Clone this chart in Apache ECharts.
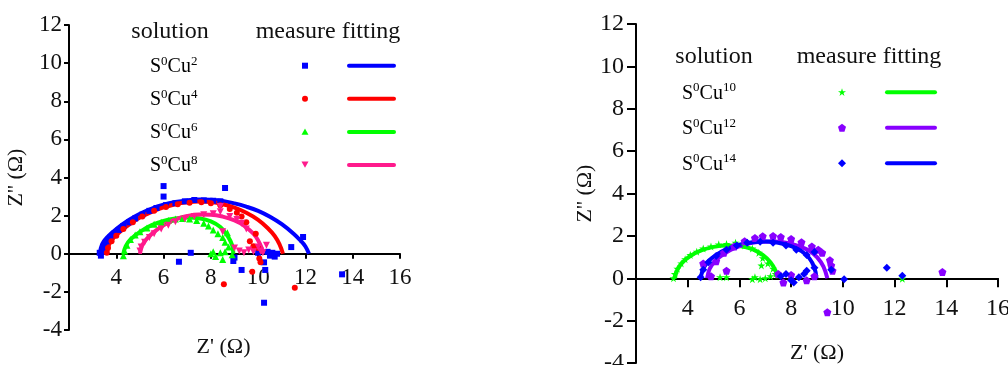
<!DOCTYPE html>
<html>
<head>
<meta charset="utf-8">
<script src="https://cdn.jsdelivr.net/npm/echarts@6/dist/echarts.min.js"></script>
<style>
  html, body { margin: 0; background: #fff; }
  #main { width: 1008px; height: 365px; }
</style>
</head>
<body>
<div id="main"></div>
<script>
// ---------- data ----------
const yTicksMin = -4, yTicksMax = 12;
const xMin = 2, xMax = 16;

const leftNames = ['S0Cu2', 'S0Cu4', 'S0Cu6', 'S0Cu8'];
const rightNames = ['S0Cu10', 'S0Cu12', 'S0Cu14'];

// left panel - measured
const cu2Measure = [[3.3,0.05],[3.35,-0.1],[3.4,0.2],[3.45,0.1],[3.5,0.4],[3.6,0.65],[3.75,0.85],[3.9,1.05],[4.1,1.25],[4.3,1.45],[4.55,1.65],[4.8,1.85],[5.1,2.05],[5.4,2.25],[5.7,2.4],[6.1,2.55],[6.5,2.65],[6.9,2.75],[7.3,2.82],[7.7,2.8],[8.1,2.78],[8.4,2.75],
  [6.0,3.55],[6.0,3.0],[8.6,3.45],[6.65,-0.42],[7.15,0.05],[8.95,-0.38],[9.0,-0.2],[9.3,-0.85],[10.3,-0.85],[10.25,-2.57],[10.25,-0.45],[10.0,0.05],[10.5,-0.1],[10.6,0.05],[10.7,-0.15],[10.8,0],[10.4,0.1],[11.4,0.35],[11.9,0.88],[13.55,-1.08]];
const cu4Measure = [[3.6,0.05],[3.65,0.3],[3.8,0.65],[4.0,0.95],[4.3,1.3],[4.7,1.65],[5.1,1.95],[5.6,2.25],[6.1,2.45],[6.6,2.6],[7.1,2.68],[7.6,2.7],[8.0,2.65],[8.4,2.55],[8.8,2.35],[9.1,2.15],[9.3,1.95],[9.5,1.65],[9.65,0.65],[9.9,1.05],[10.0,0.3],[10.05,-0.25],[10.1,-0.45],[9.8,0.4],
  [8.55,-1.6],[9.75,-0.95],[11.55,-1.78]];
const cu6Measure = [[4.3,-0.1],[4.35,0.15],[4.45,0.45],[4.6,0.75],[4.8,0.98],[5.0,1.15],[5.3,1.35],[5.6,1.55],[5.9,1.65],[6.2,1.75],[6.5,1.82],[6.8,1.85],[7.1,1.82],[7.4,1.75],[7.7,1.6],[7.9,1.45],[8.1,1.25],[8.3,1.05],[8.5,0.85],[8.6,0.6],[8.7,1.1],[8.75,0.35],[8.6,0.1],[8.4,0.05],[8.2,-0.15],[8.1,0.1],[8.5,-0.3],[8.9,-0.05],[8.0,0.0]];
const cu8Measure = [[5.0,0.15],[5.05,0.35],[5.2,0.6],[5.4,0.85],[5.6,1.05],[5.9,1.3],[6.2,1.5],[6.5,1.68],[6.9,1.82],[7.3,1.95],[7.7,2.05],[8.1,2.1],[8.4,2.2],[8.4,2.48],[8.8,1.95],[9.1,1.8],[9.3,1.6],[9.5,1.3],[8.5,1.15],[9.0,0.3],[9.2,0.15],[9.4,0.05],[9.6,0.2],[9.8,0.1],[10.0,0.35],[10.1,0.15],[10.35,0.45],[10.2,0.05]];

// left panel - fitting
const cu2Fit = [[3.3,0],[3.4,0.5],[3.6,0.85],[4.0,1.3],[4.5,1.75],[5.0,2.1],[5.5,2.37],[6.0,2.57],[6.5,2.71],[7.0,2.8],[7.5,2.84],[8.0,2.83],[8.5,2.77],[9.0,2.64],[9.5,2.47],[10.0,2.25],[10.5,1.94],[11.0,1.55],[11.5,1.05],[11.8,0.68],[12.0,0.38],[12.15,0]];
const cu4Fit = [[3.6,0],[3.7,0.5],[3.9,0.85],[4.2,1.2],[4.6,1.58],[5.0,1.9],[5.5,2.2],[6.0,2.43],[6.5,2.6],[7.0,2.7],[7.5,2.74],[8.0,2.71],[8.5,2.6],[9.0,2.42],[9.5,2.15],[10.0,1.78],[10.4,1.35],[10.7,0.93],[10.9,0.5],[11.05,0]];
const cu6Fit = [[4.3,0],[4.4,0.4],[4.6,0.75],[5.0,1.15],[5.5,1.5],[6.0,1.72],[6.5,1.85],[7.0,1.9],[7.5,1.86],[8.0,1.7],[8.4,1.4],[8.7,0.95],[8.9,0.45],[8.95,0]];
const cu8Fit = [[5.0,0],[5.1,0.45],[5.3,0.8],[5.6,1.15],[6.0,1.5],[6.5,1.8],[7.0,1.98],[7.5,2.06],[8.0,2.05],[8.5,1.95],[9.0,1.75],[9.4,1.48],[9.8,1.05],[10.0,0.7],[10.15,0.3],[10.2,0]];

// right panel - measured
const cu10Measure = [[3.45,0.0],[3.5,0.2],[3.6,0.45],[3.75,0.7],[3.9,0.9],[4.1,1.1],[4.35,1.25],[4.6,1.4],[4.9,1.5],[5.2,1.6],[5.5,1.62],[5.85,1.68],[6.2,1.55],[6.5,1.4],[6.75,1.2],[6.9,0.95],[6.85,0.6],[7.1,0.7],[7.3,0.45],[7.4,0.2],[7.2,0.1],[7.0,0.0],[6.8,-0.05],[6.6,0.05],[6.5,-0.05],[5.25,0.05],[5.5,0.05],[12.3,-0.02]];
const cu12Measure = [[4.6,0.7],[5.5,0.35],[4.9,0.1],[5.1,0.8],[5.4,1.2],[5.8,1.5],[6.2,1.75],[6.6,1.9],[6.9,1.98],[7.3,2.0],[7.6,1.95],[8.0,1.85],[8.4,1.7],[8.8,1.5],[9.05,1.35],[9.2,1.2],[9.5,0.85],[9.55,0.6],[9.6,0.35],[8.9,0.1],[8.6,-0.1],[8.0,0.15],[7.7,-0.2],[7.5,0.2],[9.4,-1.6],[13.85,0.3]];
const cu14Measure = [[4.5,0.05],[4.6,0.4],[4.8,0.75],[5.1,1.05],[5.5,1.35],[5.9,1.55],[6.3,1.68],[6.8,1.72],[7.3,1.68],[7.8,1.55],[8.2,1.35],[8.6,1.1],[8.9,1.24],[8.9,0.5],[8.6,0.35],[8.5,0.2],[8.3,0.05],[8.0,-0.1],[7.8,0.2],[8.1,-0.2],[7.6,0.1],[9.55,0.4],[10.05,-0.05],[11.7,0.5],[12.3,0.12]];

// right panel - fitting
const cu10Fit = [[3.5,0],[3.6,0.4],[3.8,0.75],[4.1,1.05],[4.5,1.3],[5.0,1.48],[5.5,1.55],[6.0,1.52],[6.5,1.38],[6.9,1.1],[7.2,0.75],[7.4,0.35],[7.48,0]];
const cu12Fit = [[4.75,0],[4.85,0.45],[5.05,0.8],[5.4,1.15],[5.8,1.42],[6.3,1.62],[6.8,1.72],[7.3,1.74],[7.8,1.68],[8.3,1.52],[8.7,1.3],[9.0,1.0],[9.25,0.55],[9.4,0]];
const cu14Fit = [[4.5,0],[4.6,0.45],[4.8,0.8],[5.1,1.1],[5.5,1.38],[6.0,1.58],[6.5,1.7],[7.0,1.73],[7.5,1.68],[8.0,1.52],[8.4,1.28],[8.7,0.95],[8.9,0.5],[8.98,0]];

// ---------- styles ----------
const FONT = 'Liberation Serif';
// marker outlines in a 10x10 box
const SHAPES = {
  square: [[0,0],[10,0],[10,10],[0,10]],
  triUp: [[5,0],[10,9],[0,9]],
  triDown: [[0,0],[10,0],[5,9]],
  star: [[5,0],[6.2,3.6],[10,3.6],[6.9,5.8],[8.1,9.5],[5,7.2],[1.9,9.5],[3.1,5.8],[0,3.6],[3.8,3.6]],
  pentagon: [[5,0],[10,3.8],[8.1,10],[1.9,10],[0,3.8]],
  diamond: [[5,0],[10,5],[5,10],[0,5]]
};
function symbolOf(key) {
  if (key === 'circle') return 'circle';
  return 'path://M' + SHAPES[key].map(function (p) { return p.join(','); }).join('L') + 'Z';
}

const panels = [
  {
    names: leftNames,
    measure: [cu2Measure, cu4Measure, cu6Measure, cu8Measure],
    fit: [cu2Fit, cu4Fit, cu6Fit, cu8Fit],
    colors: ['#0000ff', '#ff0000', '#00ff00', '#ff1a8c'],
    shapes: ['square', 'circle', 'triUp', 'triDown'],
    sizes: [6, 6, 7, 7],
    grid: { left: 69, top: 25, width: 331, height: 305 },
    fontSize: 23,
    xName: { gap: 82, padding: [0, 22, 0, 0] },
    yName: { gap: 42 },
    labelMargin: { x: 13, y: 7 },
    tickLen: 5,
    legend: { solX: 170, headY: 32, measX: 328, rowY: 65.7, step: 33.1, labelX: 150, markX: 305, lineX: 347, lineW: 49 }
  },
  {
    names: rightNames,
    measure: [cu10Measure, cu12Measure, cu14Measure],
    fit: [cu10Fit, cu12Fit, cu14Fit],
    colors: ['#00ff00', '#8800ff', '#0000ff'],
    shapes: ['star', 'pentagon', 'diamond'],
    sizes: [8, 8, 8],
    grid: { left: 636, top: 24, width: 362, height: 339 },
    fontSize: 24,
    xName: { gap: 64, padding: [0, 0, 0, 0] },
    yName: { gap: 40 },
    labelMargin: { x: 18, y: 12 },
    tickLen: 9,
    legend: { solX: 714, headY: 57, measX: 869, rowY: 92.3, step: 35.5, labelX: 682, markX: 842, lineX: 885, lineW: 52 }
  }
];

const richLabel = {
  a: { fontFamily: FONT, fontSize: 20, color: '#111', lineHeight: 24 },
  s: { fontFamily: FONT, fontSize: 13, color: '#111', verticalAlign: 'top', lineHeight: 13 }
};
function labelText(name) {
  const m = name.match(/^S(\d)Cu(\d+)$/);
  return '{a|S}{s|' + m[1] + '}{a|Cu}{s|' + m[2] + '}';
}

function markerEl(key, cx, cy, size, color) {
  if (key === 'circle') {
    return { type: 'circle', shape: { cx: cx, cy: cy, r: size / 2 }, style: { fill: color } };
  }
  const k = size / 10;
  return {
    type: 'polygon',
    shape: { points: SHAPES[key].map(function (p) { return [cx - size / 2 + p[0] * k, cy - size / 2 + p[1] * k]; }) },
    style: { fill: color }
  };
}

const grids = [], xAxes = [], yAxes = [], series = [], graphics = [];

panels.forEach(function (p, gi) {
  grids.push(Object.assign({ containLabel: false, outerBoundsMode: 'none' }, p.grid));
  const axisLine = { lineStyle: { color: '#000', width: 2 } };
  // the Z' axis sits on Z'' = 0: shift the bottom axis up to that level
  const zeroOffset = -p.grid.height * (0 - yTicksMin) / (yTicksMax - yTicksMin);
  xAxes.push({
    gridIndex: gi, type: 'value', min: xMin, max: xMax, interval: 2,
    position: 'bottom', offset: zeroOffset,
    axisLine: Object.assign({ onZero: false }, axisLine),
    axisTick: { length: p.tickLen, lineStyle: { color: '#000', width: 2 } },
    axisLabel: { fontFamily: FONT, fontSize: p.fontSize, color: '#111', margin: p.labelMargin.x,
      formatter: function (v) { return v === xMin ? '' : String(v); } },
    splitLine: { show: false },
    name: "Z' (\u03A9)", nameLocation: 'middle', nameGap: p.xName.gap,
    nameTextStyle: { fontFamily: FONT, fontSize: 22, color: '#111', padding: p.xName.padding }
  });
  yAxes.push({
    gridIndex: gi, type: 'value', min: yTicksMin, max: yTicksMax, interval: 2,
    axisLine: Object.assign({ onZero: false }, axisLine),
    axisTick: { length: p.tickLen, lineStyle: { color: '#000', width: 2 } },
    axisLabel: { fontFamily: FONT, fontSize: p.fontSize, color: '#111', margin: p.labelMargin.y },
    splitLine: { show: false },
    name: "Z'' (\u03A9)", nameLocation: 'middle', nameGap: p.yName.gap,
    nameTextStyle: { fontFamily: FONT, fontSize: 22, color: '#111' }
  });

  p.names.forEach(function (name, i) {
    series.push({
      name: name + ' fitting', type: 'line', xAxisIndex: gi, yAxisIndex: gi,
      data: p.fit[i], smooth: 0.4, showSymbol: false, symbol: 'none', z: 2,
      color: p.colors[i], lineStyle: { color: p.colors[i], width: 4 },
      silent: true
    });
  });
  p.names.forEach(function (name, i) {
    series.push({
      name: name + ' measure', type: 'scatter', xAxisIndex: gi, yAxisIndex: gi,
      data: p.measure[i], symbol: symbolOf(p.shapes[i]), symbolSize: p.sizes[i], z: 3,
      itemStyle: { color: p.colors[i], opacity: 1 }, silent: true
    });
  });

  // custom legend table: solution | measure | fitting
  const L = p.legend;
  const headStyle = { fontFamily: FONT, fontSize: 24, fill: '#111', align: 'center', verticalAlign: 'middle' };
  graphics.push({ type: 'text', style: Object.assign({ text: 'solution', x: L.solX, y: L.headY }, headStyle) });
  graphics.push({ type: 'text', style: Object.assign({ text: 'measure fitting', x: L.measX, y: L.headY }, headStyle) });
  p.names.forEach(function (name, i) {
    const y = L.rowY + i * L.step;
    graphics.push({ type: 'text', style: { text: labelText(name), rich: richLabel, x: L.labelX, y: y + 1, align: 'left', verticalAlign: 'middle' } });
    graphics.push(markerEl(p.shapes[i], L.markX, y, p.sizes[i], p.colors[i]));
    graphics.push({ type: 'rect', shape: { x: L.lineX, y: y - 2, width: L.lineW, height: 4, r: 2 }, style: { fill: p.colors[i] } });
  });
});

const chart = echarts.init(document.getElementById('main'), null, { renderer: 'canvas' });
chart.setOption({
  animation: false,
  backgroundColor: '#fff',
  textStyle: { fontFamily: FONT },
  grid: grids,
  xAxis: xAxes,
  yAxis: yAxes,
  series: series,
  graphic: graphics
});
</script>
</body>
</html>
